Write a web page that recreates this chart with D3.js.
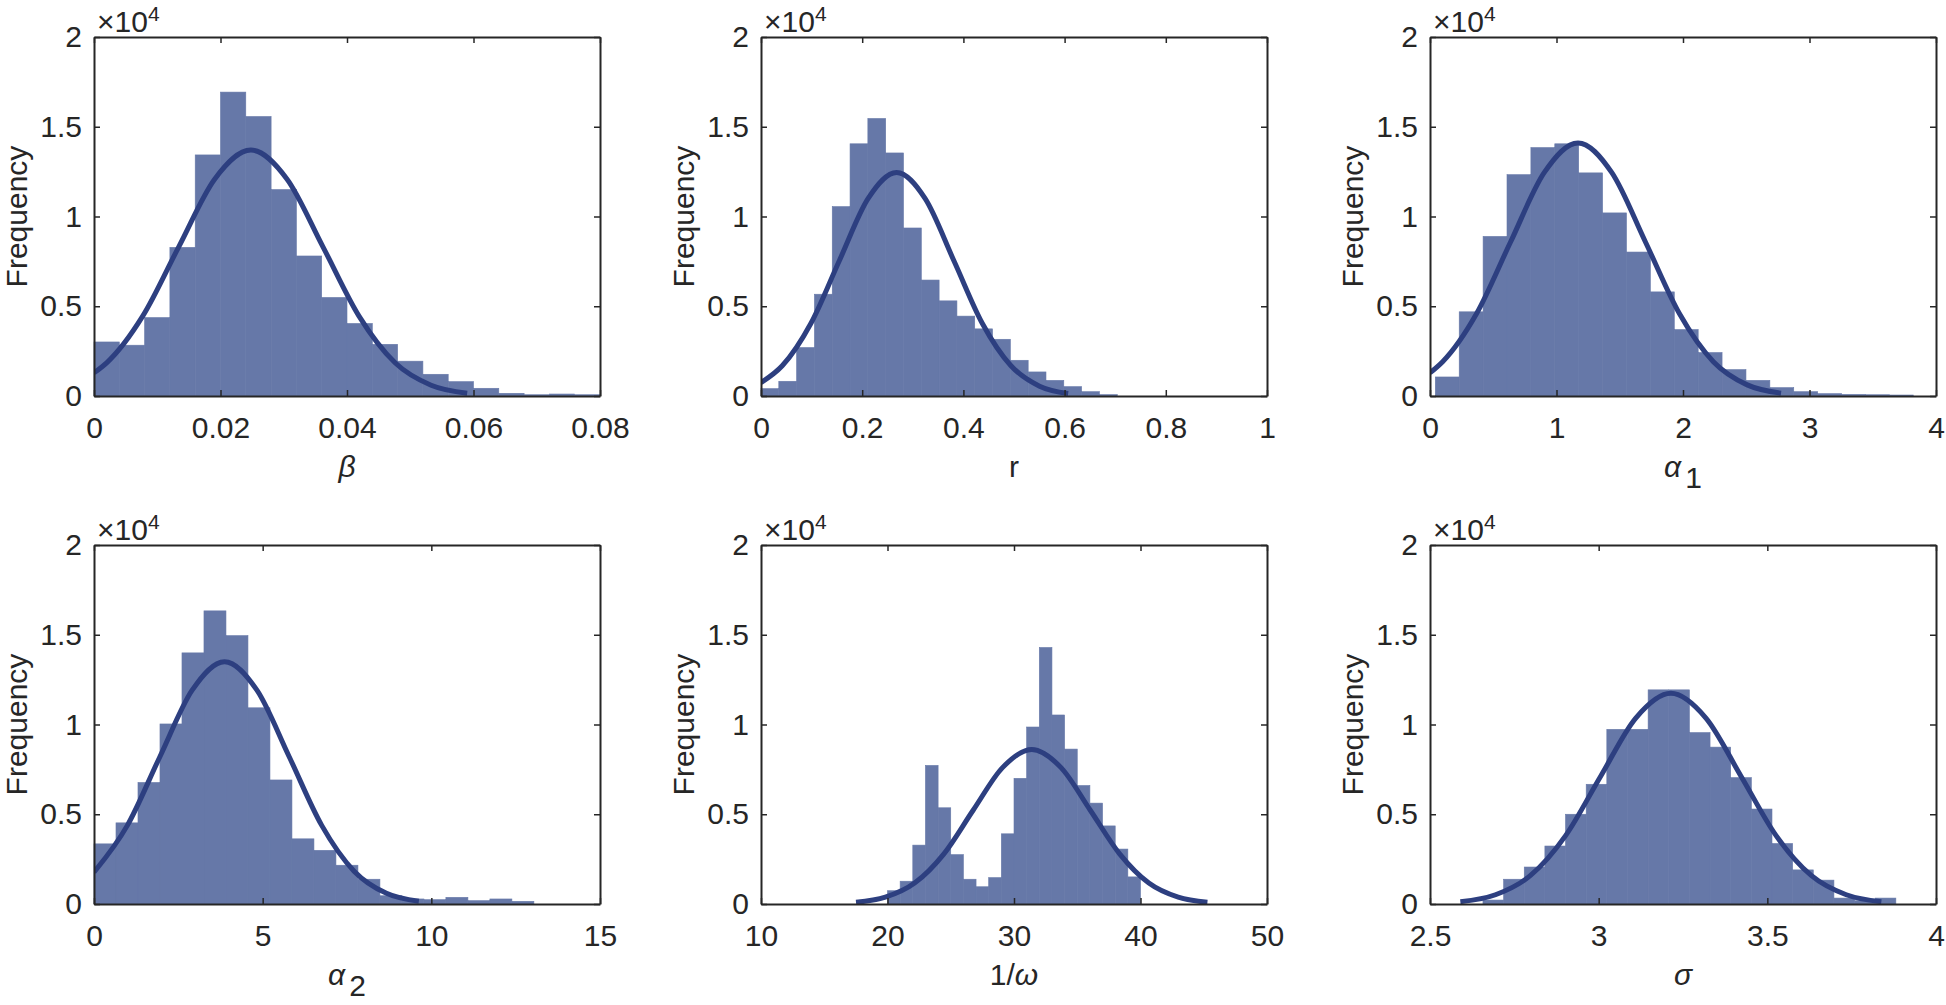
<!DOCTYPE html>
<html lang="en">
<head>
<meta charset="utf-8">
<title>Posterior histograms with normal fit</title>
<script src="https://d3js.org/d3.v7.min.js"></script>
<style>
  body { margin: 0; background: #fff; }
  svg text { font-family: "Liberation Sans", Arial, Helvetica, sans-serif; }
</style>
</head>
<body>
<div id="chart"></div>
<script>
// histogram counts (20 bins each)
const betaCounts  = [3010, 2830, 4370, 8280, 13430, 16930, 15570, 11500, 7800, 5490, 4040, 2880, 1940, 1210, 800, 430, 150, 70, 110, 70];
const rCounts     = [410, 820, 2700, 5670, 10550, 14050, 15460, 13540, 9360, 6460, 5300, 4450, 3740, 3160, 1990, 1340, 870, 520, 240, 75];
const alpha1Counts = [1060, 4690, 8890, 12330, 13840, 14050, 12430, 10200, 8020, 5800, 3700, 2420, 1470, 870, 465, 240, 130, 90, 70, 55];
const alpha2Counts = [3350, 4520, 6770, 10030, 13990, 16330, 14950, 10930, 6910, 3630, 2990, 2160, 1380, 460, 280, 240, 370, 185, 280, 150];
const omegaCounts = [740, 1270, 3280, 7720, 5360, 2750, 1380, 960, 1470, 3910, 7000, 9860, 14290, 10530, 8630, 6600, 5620, 4350, 3060, 1510];
const sigmaCounts = [220, 1380, 2060, 3230, 5000, 6670, 9730, 9730, 11930, 11930, 9550, 8740, 7040, 5290, 3370, 1900, 1330, 330, 180, 330];

// first and last bin edge of each histogram
const binRanges = [[0, 0.08], [0, 0.704], [0.042, 3.82], [0, 13.04], [20, 40], [2.657, 3.881]];

// fitted normal curves
const betaFitX = [0, 0.0020, 0.0077, 0.0134, 0.0191, 0.0248, 0.0305, 0.0362, 0.0419, 0.0476, 0.0533, 0.0590];
const betaFitY = [1290, 1850, 4450, 8310, 12090, 13700, 12090, 8310, 4450, 1850, 600, 152];
const rFitX = [0, 0.042, 0.0985, 0.155, 0.2115, 0.268, 0.3245, 0.381, 0.4375, 0.494, 0.5505, 0.607];
const rFitY = [747, 1685, 4040, 7550, 10990, 12450, 10990, 7550, 4040, 1685, 547, 138];
const alpha1FitX = [0, 0.10, 0.3675, 0.635, 0.9025, 1.17, 1.4375, 1.705, 1.9725, 2.24, 2.5075, 2.775];
const alpha1FitY = [1290, 1910, 4580, 8550, 12440, 14100, 12440, 8550, 4580, 1910, 619, 157];
const alpha2FitX = [0, 0.99, 1.95, 2.91, 3.87, 4.83, 5.79, 6.75, 7.71, 8.67, 9.63];
const alpha2FitY = [1770, 4380, 8190, 11910, 13500, 11910, 8190, 4380, 1830, 593, 150];
const omegaFitX = [17.51, 19.83, 22.14, 24.46, 26.77, 29.09, 31.4, 33.72, 36.03, 38.35, 40.66, 42.98, 45.29];
const omegaFitY = [96, 378, 1165, 2796, 5222, 7598, 8610, 7598, 5222, 2796, 1165, 378, 96];
const sigmaFitX = [2.59, 2.694, 2.798, 2.902, 3.006, 3.11, 3.214, 3.318, 3.422, 3.526, 3.63, 3.734, 3.838];
const sigmaFitY = [130, 515, 1590, 3810, 7120, 10360, 11740, 10360, 7120, 3810, 1590, 515, 130];

// axes
const xDomains = [[0, 0.08], [0, 1], [0, 4], [0, 15], [10, 50], [2.5, 4]];
const xTicks = [
  [0, 0.02, 0.04, 0.06, 0.08],
  [0, 0.2, 0.4, 0.6, 0.8, 1],
  [0, 1, 2, 3, 4],
  [0, 5, 10, 15],
  [10, 20, 30, 40, 50],
  [2.5, 3, 3.5, 4]
];
const yTicks = [0, 5000, 10000, 15000, 20000];
const yLabel = "Frequency";

const width = 1946, height = 1005;
const W = 506, H = 359;
const lefts = [94, 761, 1430];
const tops = [37, 545];
const barColor = "#6678a8";
const lineColor = "#2d3f80";
const ink = "#262626";

const svg = d3.select("#chart").append("svg")
  .attr("width", width)
  .attr("height", height);

const panels = [
  {counts: betaCounts, fx: betaFitX, fy: betaFitY},
  {counts: rCounts, fx: rFitX, fy: rFitY},
  {counts: alpha1Counts, fx: alpha1FitX, fy: alpha1FitY},
  {counts: alpha2Counts, fx: alpha2FitX, fy: alpha2FitY},
  {counts: omegaCounts, fx: omegaFitX, fy: omegaFitY},
  {counts: sigmaCounts, fx: sigmaFitX, fy: sigmaFitY}
];

// x labels built as tspans: [text, italic, subscript]
const xLabels = [
  [["β", true, false]],
  [["r", false, false]],
  [["α", true, false], ["1", false, true]],
  [["α", true, false], ["2", false, true]],
  [["1/", false, false], ["ω", true, false]],
  [["σ", true, false]]
];

panels.forEach((p, k) => {
  const left = lefts[k % 3], top = tops[Math.floor(k / 3)];
  const g = svg.append("g").attr("transform", `translate(${left},${top})`);

  const x = d3.scaleLinear().domain(xDomains[k]).range([0, W]);
  const y = d3.scaleLinear().domain([0, 20000]).range([H, 0]);

  g.append("clipPath").attr("id", "clip" + k)
    .append("rect").attr("width", W).attr("height", H);

  // bars
  const lo = binRanges[k][0];
  const step = (binRanges[k][1] - lo) / p.counts.length;
  g.selectAll("rect.bar")
    .data(p.counts)
    .join("rect")
    .attr("class", "bar")
    .attr("x", (d, i) => x(lo + i * step))
    .attr("width", (d, i) => x(lo + (i + 1) * step) - x(lo + i * step))
    .attr("y", d => y(d))
    .attr("height", d => H - y(d))
    .attr("fill", barColor)
    .attr("stroke", barColor)
    .attr("stroke-width", 0.6);

  // fitted curve
  const pts = p.fx.map((v, i) => [v, p.fy[i]]);
  g.append("path")
    .datum(pts)
    .attr("clip-path", `url(#clip${k})`)
    .attr("fill", "none")
    .attr("stroke", lineColor)
    .attr("stroke-width", 5)
    .attr("d", d3.line().x(d => x(d[0])).y(d => y(d[1])).curve(d3.curveMonotoneX));

  // axes, ticks pointing inward on all four sides
  const styleAxis = sel => {
    sel.attr("color", ink).attr("font-size", 30)
      .attr("font-family", "'Liberation Sans', Arial, Helvetica, sans-serif");
    sel.select(".domain").attr("stroke-width", 2);
    sel.selectAll(".tick line").attr("stroke-width", 1.5);
  };
  g.append("g").attr("transform", `translate(0,${H})`)
    .call(d3.axisBottom(x).tickValues(xTicks[k]).tickSize(-6).tickSizeOuter(0).tickPadding(21).tickFormat(d => String(d)))
    .call(styleAxis);
  g.append("g")
    .call(d3.axisLeft(y).tickValues(yTicks).tickSize(-6).tickSizeOuter(0).tickPadding(12).tickFormat(d => String(d / 1e4)))
    .call(styleAxis);
  g.append("g")
    .call(d3.axisTop(x).tickValues(xTicks[k]).tickSize(-6).tickSizeOuter(0).tickFormat(""))
    .call(styleAxis);
  g.append("g").attr("transform", `translate(${W},0)`)
    .call(d3.axisRight(y).tickValues(yTicks).tickSize(-6).tickSizeOuter(0).tickFormat(""))
    .call(styleAxis);

  // exponent label
  const ex = g.append("text").attr("x", 3).attr("y", -5)
    .attr("fill", ink).attr("font-size", 30);
  ex.append("tspan").text("×10");
  ex.append("tspan").attr("font-size", 21).attr("dy", -11).text("4");

  // y label
  g.append("text")
    .attr("transform", `translate(-78,${H / 2}) rotate(-90)`)
    .attr("text-anchor", "middle")
    .attr("dominant-baseline", "central")
    .attr("fill", ink).attr("font-size", 30)
    .text(yLabel);

  // x label
  const xl = g.append("text")
    .attr("x", W / 2).attr("y", H + 81)
    .attr("text-anchor", "middle")
    .attr("fill", ink).attr("font-size", 30);
  xLabels[k].forEach(([t, it, sub]) => {
    const ts = xl.append("tspan").text(t);
    if (it) ts.attr("font-style", "italic");
    if (sub) ts.attr("dy", 11).attr("dx", 4);
  });
});
</script>
</body>
</html>
